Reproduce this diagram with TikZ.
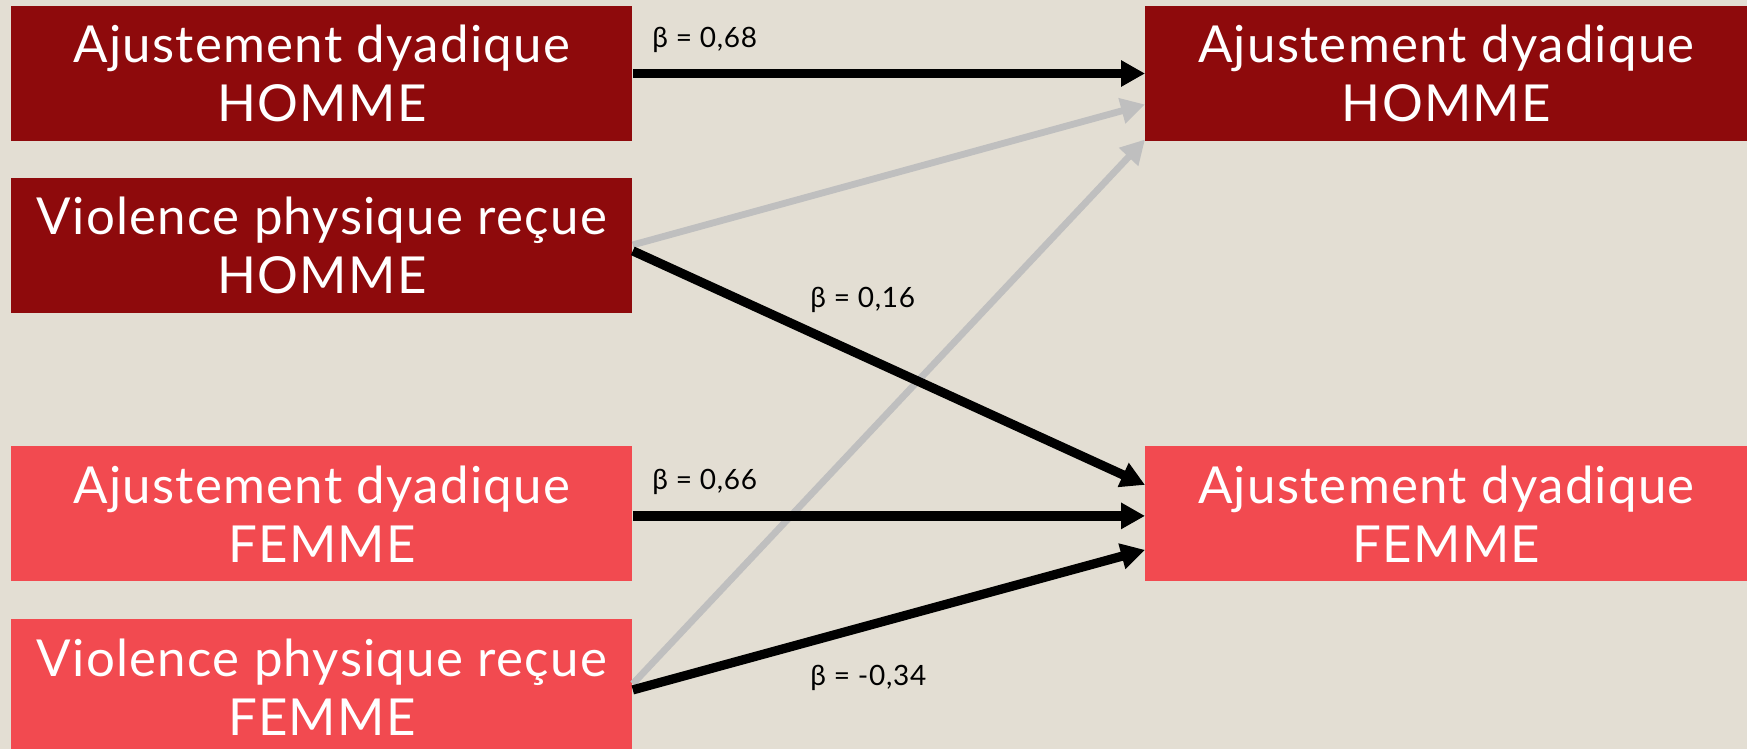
\documentclass[tikz,border=0pt]{standalone}
\usepackage{fontspec}
\setmainfont{Lato}[LetterSpace=2.5]
\usetikzlibrary{arrows.meta,calc}
\definecolor{bgc}{HTML}{E3DED3}
\definecolor{darkred}{HTML}{8E0A0C}
\definecolor{lightred}{HTML}{F24A50}
\definecolor{grayline}{HTML}{BFBFBF}
\tikzset{
  box/.style={rectangle, inner sep=0pt, anchor=north west, text=white,
    align=center, font=\fontsize{25.5}{29.5}\selectfont},
  leftbox/.style={box, minimum width=310.5pt, minimum height=67.5pt},
  rightbox/.style={box, minimum width=301pt, minimum height=67.5pt},
  blackarrow/.style={line width=4.6pt, black, -{Triangle[length=12pt,width=12.5pt]}},
  grayarrow/.style={line width=3.4pt, grayline, -{Triangle[length=12pt,width=12.5pt]}},
  beta/.style={anchor=west, inner sep=0pt, font=\fontsize{14}{16}\selectfont, text=black}
}
\begin{document}
\begin{tikzpicture}[x=0.5pt, y=-0.5pt]
\useasboundingbox (0,0) rectangle (1747,749);
\fill[bgc] (0,0) rectangle (1747,749);
\node[leftbox, fill=darkred] (A) at (11,5.6) {Ajustement dyadique\\HOMME};
\node[leftbox, fill=darkred] (B) at (11,178) {Violence physique reçue\\HOMME};
\node[leftbox, fill=lightred] (C) at (11,446) {Ajustement dyadique\\FEMME};
\node[leftbox, fill=lightred] (D) at (11,619) {Violence physique reçue\\FEMME};
\node[rightbox, fill=darkred] (E) at (1145,5.6) {Ajustement dyadique\\HOMME};
\node[rightbox, fill=lightred] (F) at (1145,446) {Ajustement dyadique\\FEMME};
% gray arrows
\draw[grayarrow] ($(B.east)+(0,-1)$) -- ($(E.west)+(0,31)$);
\draw[grayarrow] ($(D.east)+(0,-3)$) -- ($(E.west)+(0,66)$);
% black arrows
\draw[blackarrow] (A.east) -- (E.west);
\draw[blackarrow] ($(B.east)+(0,5)$) -- ($(F.west)+(0,-29)$);
\draw[blackarrow] ($(C.east)+(0,2)$) -- ($(F.west)+(0,2)$);
\draw[blackarrow] ($(D.east)+(0,3)$) -- ($(F.west)+(0,36)$);
% labels
\node[beta] (l1) at (652,40) {β = 0,68};
\node[beta] (l2) at (810,300) {β = 0,16};
\node[beta] (l3) at (652,482) {β = 0,66};
\node[beta] (l4) at (810,678) {β = -0,34};
\end{tikzpicture}
\end{document}
